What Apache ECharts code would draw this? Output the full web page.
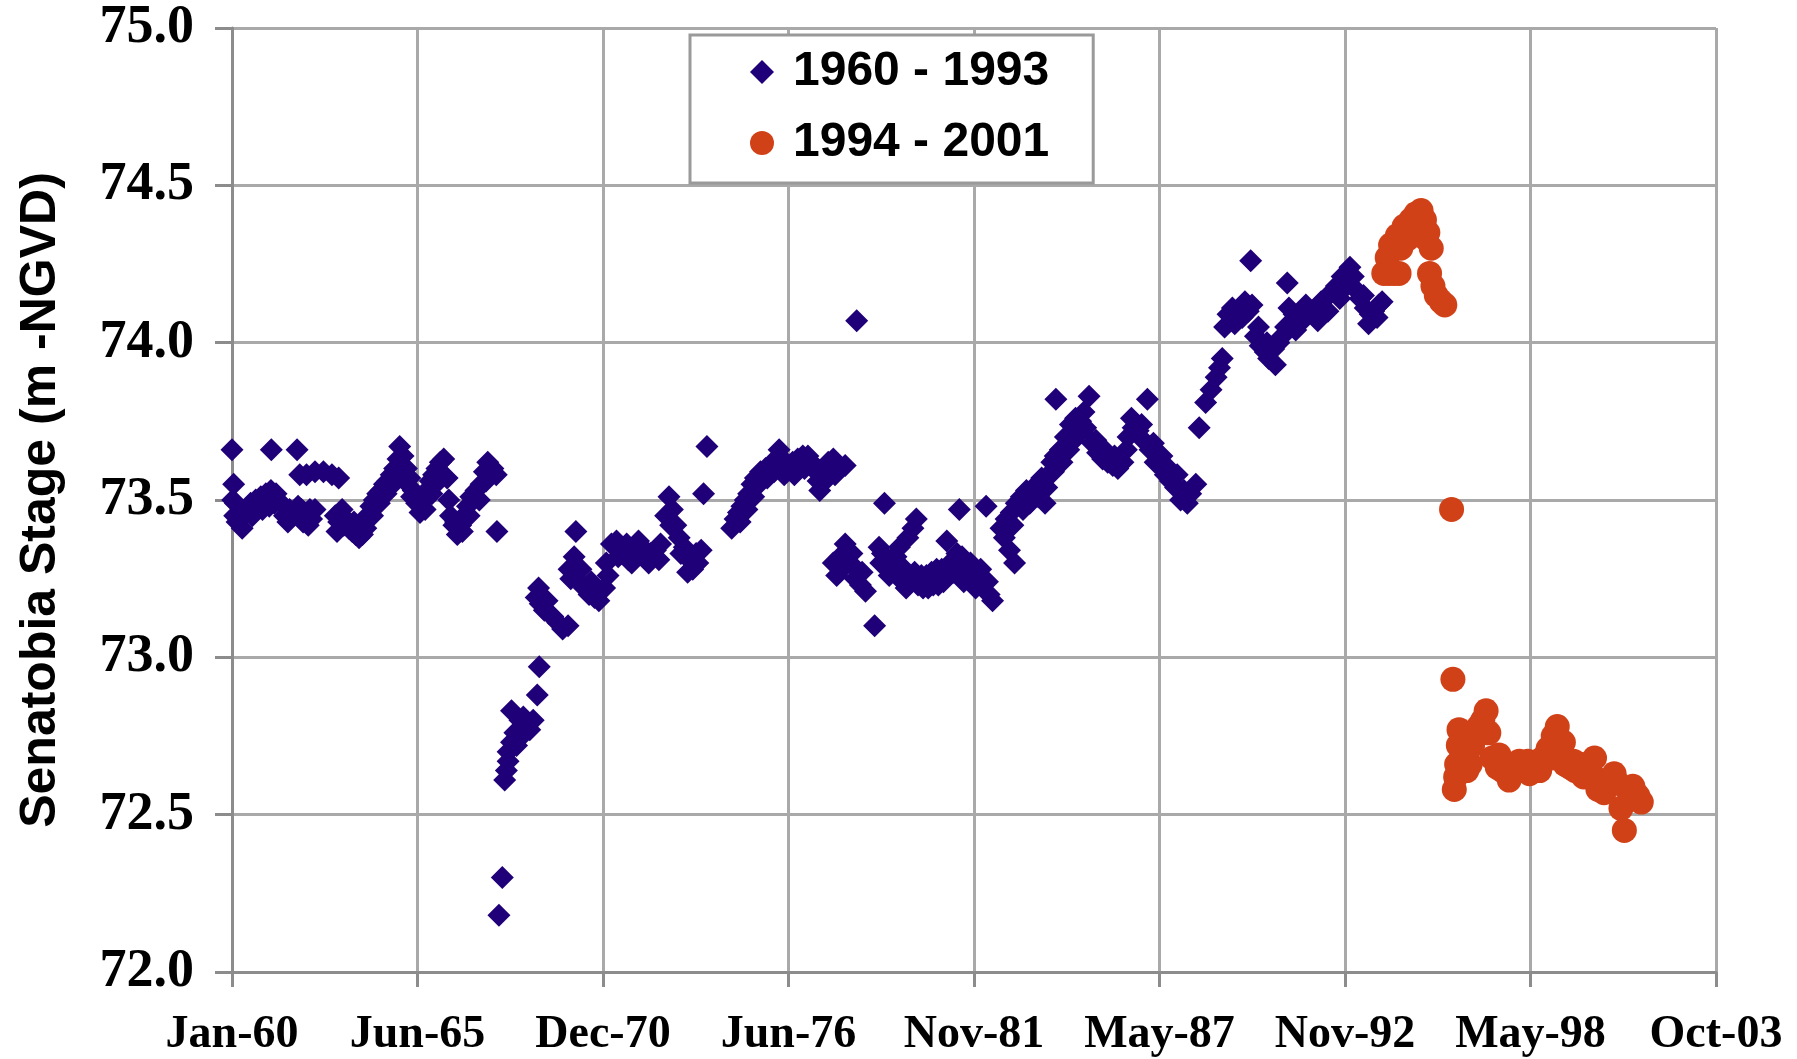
<!DOCTYPE html>
<html><head><meta charset="utf-8">
<script src="https://cdn.jsdelivr.net/npm/echarts@6/dist/echarts.min.js"></script>
<style>html,body{margin:0;padding:0;background:#fff}#c{width:1797px;height:1059px}</style>
</head><body><div id="c"></div>
<script>
const xTickLabels = ['Jan-60','Jun-65','Dec-70','Jun-76','Nov-81','May-87','Nov-92','May-98','Oct-03'];
const seriesNames = ['1960 - 1993','1994 - 2001'];
const yAxisTitle = 'Senatobia Stage (m -NGVD)';

const years1 = [
1960.00,1960.05,1960.02,1960.08,1960.15,1960.25,1960.35,1960.45,1960.55,1960.70,1960.85,1961.00,1961.15,1961.16,1961.30,1961.45,1961.55,1961.65,1961.80,1961.92,1961.95,
1962.00,1962.05,1962.15,1962.20,1962.25,1962.35,1962.45,1962.45,1962.70,1962.95,1963.05,1963.15,1963.15,1963.25,1963.35,1963.45,1963.55,1963.65,1963.75,1963.85,1963.95,
1964.00,1964.10,1964.20,1964.30,1964.40,1964.50,1964.60,1964.70,1964.80,1964.90,1964.95,1965.05,1965.15,1965.25,1965.35,1965.45,1965.55,1965.65,1965.75,1965.85,1965.95,
1966.05,1966.15,1966.25,1966.35,1966.40,1966.45,1966.55,1966.65,1966.75,1966.85,1966.95,1967.05,1967.20,1967.35,1967.45,1967.55,1967.70,1967.80,1967.82,
1967.88,1967.98,1968.05,1968.10,1968.15,1968.15,1968.25,1968.25,1968.35,1968.40,1968.50,1968.60,1968.65,1968.79,1968.89,1969.01,1969.07,
1968.98,1969.10,1969.22,1969.35,1969.47,1969.62,1969.76,1969.92,1969.95,1970.10,1970.15,1970.25,1970.40,1970.54,1970.70,1970.83,1971.00,
1971.05,1971.20,1971.35,1971.50,1971.65,1971.80,1971.90,1972.05,1972.20,1972.35,1972.50,1972.65,1972.80,1972.90,1973.00,1973.10,1973.20,1973.35,1973.50,1973.60,1973.75,1973.85,1973.92,1974.02,
1974.75,1974.85,1974.95,1975.05,1975.15,1975.25,1975.35,1975.45,1975.60,1975.75,1975.90,1976.05,1976.15,1976.25,1976.40,1976.55,1976.70,1976.85,1977.00,1977.15,1977.30,1977.35,1977.45,1977.60,1977.75,1977.90,1978.10,
1977.75,1977.95,1978.10,1978.25,1978.40,1978.44,1978.55,1978.70,1978.97,1979.10,1979.20,1979.26,1979.30,1979.40,1979.50,1979.60,1979.70,1979.80,1979.90,1979.95,
1980.05,1980.10,1980.20,1980.25,1980.40,1980.55,1980.70,1980.85,1981.00,1981.10,1981.15,1981.30,1981.45,1981.47,1981.55,1981.70,1981.85,1982.00,1982.15,1982.26,1982.35,1982.45,
1982.70,1982.85,1982.95,1983.00,1983.10,1983.15,1983.30,1983.45,1983.60,1983.75,1983.90,1984.00,1984.10,1984.20,1984.30,1984.32,1984.45,1984.60,1984.75,1984.90,
1985.05,1985.20,1985.30,1985.40,1985.55,1985.70,1985.85,1986.00,1986.15,1986.30,1986.45,1986.60,1986.75,1986.90,1987.02,1987.10,1987.25,1987.40,1987.55,1987.70,1987.85,
1988.00,1988.10,1988.30,1988.45,1988.55,1988.74,1988.90,1989.05,1989.15,1989.23,1989.40,1989.53,1989.70,1989.82,1990.00,1990.07,1990.11,1990.21,1990.35,1990.50,1990.60,1990.75,1990.90,
1991.00,1991.15,1991.20,1991.35,1991.50,1991.60,1991.75,1991.90,1992.00,1992.15,1992.28,1992.45,1992.60,1992.77,1993.00,1993.16,1993.30,1993.45,1993.55,1993.70,1993.85,1993.95,
// additional readings inside the dense clusters
1960.10,1960.30,1960.60,1960.90,1961.10,1961.25,1961.70,1962.10,1962.30,
1963.10,1963.30,1963.60,1963.90,1964.15,1964.35,1964.55,1964.75,1964.85,1965.10,1965.30,1965.70,1965.90,1966.10,1966.20,1966.60,1966.80,1967.00,1967.30,1967.50,
1969.05,1969.30,1970.00,1970.30,1970.60,1971.10,1971.40,1971.70,1972.00,1972.30,1972.60,1972.95,1973.25,1973.45,1973.70,
1975.00,1975.20,1975.40,1975.55,1975.80,1976.00,1976.30,1976.60,1976.90,1977.10,1977.50,1977.80,
1977.85,1978.00,1978.30,1978.60,1979.15,1979.45,1979.65,1979.85,1980.15,1980.35,1980.50,1980.65,1980.80,1980.95,1981.20,1981.40,1981.60,1981.80,1981.95,1982.10,1982.30,
1982.80,1983.05,1983.35,1983.55,1983.80,1984.05,1984.25,1984.50,1984.70,1984.85,1985.00,1985.15,1985.50,1985.75,1986.05,1986.40,1986.55,1986.85,1987.20,1987.45,1987.65,1987.90,1988.20,
1989.30,1989.60,1989.90,1990.30,1990.55,1990.80,1991.10,1991.40,1991.70,1992.05,1992.35,1992.70,1992.90,1993.10,1993.40,1993.60,1993.80
];
const stage1 = [
73.66,73.55,73.50,73.45,73.43,73.44,73.46,73.47,73.49,73.50,73.51,73.52,73.53,73.66,73.52,73.49,73.45,73.43,73.46,73.66,73.48,
73.58,73.47,73.45,73.58,73.42,73.44,73.47,73.59,73.59,73.58,73.45,73.43,73.57,73.47,73.44,73.41,73.40,73.39,73.38,73.39,73.41,
73.44,73.48,73.50,73.52,73.53,73.55,73.56,73.58,73.60,73.63,73.67,73.64,73.60,73.57,73.53,73.49,73.46,73.50,73.53,73.56,73.58,
73.60,73.62,73.63,73.57,73.50,73.45,73.42,73.39,73.42,73.45,73.48,73.51,73.53,73.55,73.59,73.62,73.60,73.58,73.40,
72.18,72.30,72.61,72.64,72.67,72.70,72.73,72.83,72.76,72.72,72.80,72.81,72.76,72.77,72.80,72.88,72.97,
73.19,73.17,73.15,73.14,73.13,73.11,73.09,73.10,73.28,73.32,73.40,73.24,73.22,73.20,73.19,73.18,73.22,
73.30,73.36,73.37,73.33,73.36,73.30,73.35,73.33,73.34,73.33,73.34,73.36,73.45,73.51,73.47,73.42,73.38,73.35,73.31,73.28,73.30,73.34,73.52,73.67,
73.41,73.44,73.46,73.48,73.50,73.52,73.55,73.57,73.59,73.60,73.61,73.63,73.66,73.63,73.61,73.62,73.63,73.64,73.64,73.60,73.56,73.53,73.59,73.62,73.63,73.61,73.61,
73.30,73.32,73.36,73.30,73.25,74.07,73.23,73.21,73.10,73.35,73.33,73.49,73.30,73.26,73.28,73.32,73.35,73.24,73.22,73.38,
73.24,73.41,73.44,73.23,73.22,73.22,73.23,73.23,73.24,73.37,73.26,73.27,73.30,73.47,73.32,73.28,73.25,73.27,73.23,73.48,73.20,73.18,
73.41,73.44,73.34,73.46,73.30,73.49,73.51,73.53,73.52,73.55,73.57,73.49,73.58,73.62,73.64,73.82,73.66,73.70,73.74,73.76,
73.75,73.73,73.83,73.68,73.65,73.63,73.62,73.61,73.60,73.62,73.70,73.73,73.72,73.69,73.82,73.66,73.62,73.61,73.58,73.56,73.54,
73.50,73.53,73.52,73.55,73.73,73.81,73.85,73.89,73.92,73.95,74.09,74.11,74.10,74.08,74.10,74.26,74.12,74.02,73.99,73.97,73.95,73.98,74.00,
74.02,74.19,74.11,74.09,74.08,74.07,74.09,74.10,74.11,74.13,74.14,74.16,74.18,74.21,74.24,74.17,74.14,74.11,74.06,74.10,74.12,74.13,
73.49,73.41,73.45,73.47,73.48,73.49,73.47,73.43,73.47,
73.40,73.42,73.43,73.44,73.45,73.49,73.52,73.55,73.58,73.56,73.51,73.47,73.52,73.56,73.58,73.43,73.40,73.45,73.50,73.56,
73.22,73.18,73.25,73.28,73.24,73.26,73.32,73.31,73.37,73.30,73.31,73.42,73.33,73.27,73.33,
73.43,73.47,73.51,73.55,73.57,73.59,73.58,73.58,73.60,73.62,73.56,73.58,
73.26,73.28,73.33,73.27,73.30,73.31,73.26,73.28,73.27,73.26,73.26,73.27,73.28,73.28,73.30,73.33,73.24,73.30,73.22,73.28,73.24,
73.38,73.42,73.47,73.49,73.51,73.54,73.59,73.62,73.66,73.69,73.71,73.78,73.69,73.66,73.64,73.66,73.76,73.74,73.68,73.64,73.60,73.58,73.49,
74.05,74.06,74.13,74.05,74.00,73.93,74.05,74.04,74.12,74.07,74.10,74.14,74.18,74.21,74.15,74.09,74.08
];

const years2 = [
1994.00,1994.15,1994.30,1994.45,1994.20,1994.40,1994.60,1994.80,1994.95,1995.10,1995.20,1995.30,1995.40,1995.35,1995.45,1995.55,1995.70,1995.80,
1996.00,1996.04,1996.08,1996.12,1996.15,1996.20,1996.22,1996.30,1996.40,1996.45,1996.55,1996.62,1996.70,1996.80,1996.92,
1997.02,1997.10,1997.20,1997.35,1997.50,1997.65,1997.80,1997.95,1998.10,1998.25,1998.40,1998.55,1998.70,1998.85,
1999.00,1999.12,1999.22,1999.35,1999.50,1999.65,1999.80,1999.95,2000.10,2000.22,2000.32,2000.45,2000.60,2000.75,2000.90,
2001.00,2001.10,2001.20,2001.35,2001.50,2001.60,
1994.10,1994.50,1994.70,1994.90,1995.00,1995.15,1995.25,
1997.40,1997.70,1998.00,1998.30,1998.60,1998.95,1999.30,1999.60,1999.90,2000.20,2000.50,2000.80,2001.30
];
const stage2 = [
74.22,74.22,74.22,74.22,74.31,74.34,74.37,74.39,74.41,74.42,74.39,74.35,74.30,74.22,74.18,74.15,74.13,74.12,
73.47,72.93,72.58,72.62,72.66,72.72,72.77,72.73,72.68,72.64,72.66,72.72,72.75,72.78,72.80,
72.83,72.76,72.68,72.65,72.64,72.65,72.63,72.64,72.66,72.67,72.65,72.67,72.68,72.71,
72.75,72.78,72.70,72.66,72.65,72.64,72.66,72.65,72.63,72.68,72.58,72.60,72.59,72.61,72.60,
72.52,72.45,72.58,72.59,72.56,72.54,
74.27,74.30,74.33,74.36,74.38,74.37,74.33,
72.69,72.61,72.67,72.63,72.64,72.68,72.73,72.67,72.62,72.62,72.57,72.63,72.55
];

// days since 1 Jan 1960 (Excel date axis, major unit 2000 days)
function toDays(y){ return (y - 1960) * 365.25; }
const data1 = years1.map((y, i) => [toDays(y), stage1[i]]);
const data2 = years2.map((y, i) => [toDays(y), stage2[i]]);

const gridGrey = '#a9a9a9';
const axisGrey = '#8c8c8c';

const chart = echarts.init(document.getElementById('c'), null, {renderer: 'canvas'});
chart.setOption({
  animation: false,
  backgroundColor: '#fff',
  grid: {left: 232, top: 28, width: 1484, height: 944},
  xAxis: {
    type: 'value', min: 0, max: 16000, interval: 2000,
    axisLine: {show: true, lineStyle: {color: axisGrey, width: 3}},
    axisTick: {show: true, length: 15, lineStyle: {color: axisGrey, width: 3}},
    splitLine: {show: true, lineStyle: {color: gridGrey, width: 3}},
    axisLabel: {
      formatter: v => xTickLabels[Math.round(v / 2000)],
      fontFamily: 'Liberation Serif', fontWeight: 'bold', fontSize: 46, color: '#000', margin: 40
    }
  },
  yAxis: {
    type: 'value', min: 72, max: 75, interval: 0.5,
    name: yAxisTitle, nameLocation: 'middle', nameGap: 166,
    nameTextStyle: {fontFamily: 'Liberation Sans', fontWeight: 'bold', fontSize: 50, color: '#000'},
    axisLine: {show: true, lineStyle: {color: axisGrey, width: 3}},
    axisTick: {show: true, length: 17, lineStyle: {color: axisGrey, width: 3}},
    splitLine: {show: true, lineStyle: {color: gridGrey, width: 3}},
    axisLabel: {
      formatter: v => v.toFixed(1),
      fontFamily: 'Liberation Serif', fontWeight: 'bold', fontSize: 54, color: '#000', margin: 38
    }
  },
  legend: {
    left: 690, top: 35, orient: 'vertical',
    itemWidth: 24, itemHeight: 24, itemGap: 23,
    padding: [13, 44, 16, 60],
    borderColor: '#9a9a9a', borderWidth: 3, backgroundColor: '#fff',
    selectedMode: false,
    textStyle: {fontFamily: 'Liberation Sans', fontWeight: 'bold', fontSize: 48, color: '#000', padding: [0, 0, 0, 14]},
    data: [{name: seriesNames[0], icon: 'diamond'}, {name: seriesNames[1], icon: 'circle'}]
  },
  series: [
    {type: 'scatter', name: seriesNames[0], symbol: 'diamond', symbolSize: 23,
     itemStyle: {color: '#200079', opacity: 1}, data: data1},
    {type: 'scatter', name: seriesNames[1], symbol: 'circle', symbolSize: 25,
     itemStyle: {color: '#d14118', opacity: 1}, data: data2}
  ]
});
</script></body></html>
